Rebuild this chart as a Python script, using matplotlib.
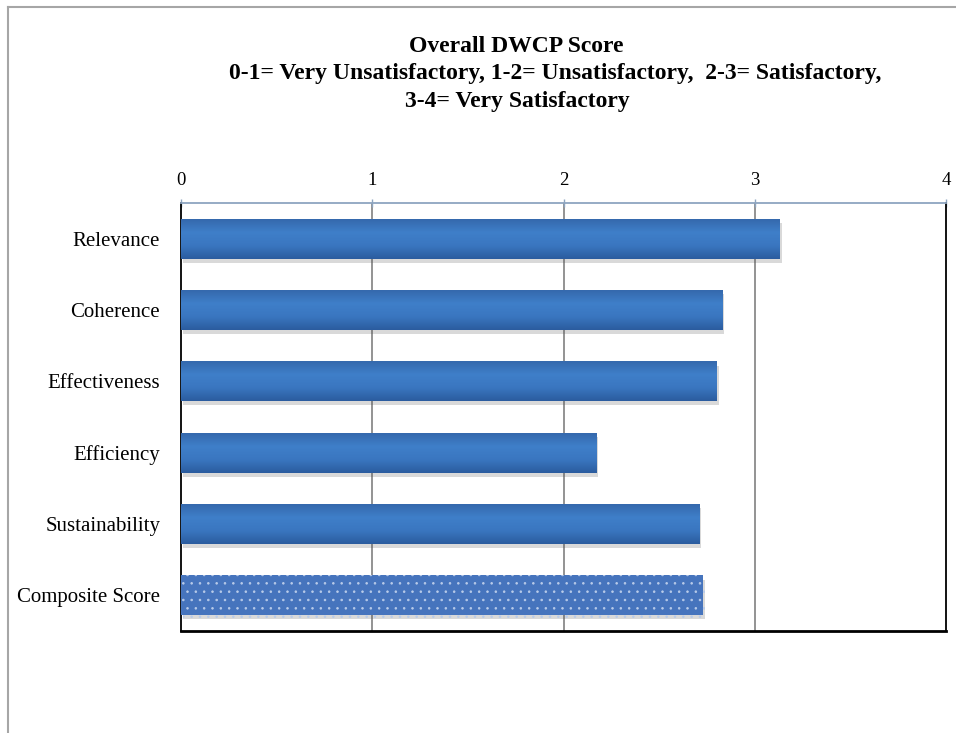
import numpy as np
import matplotlib
matplotlib.use('Agg')
import matplotlib.pyplot as plt
import matplotlib.patheffects as pe
from matplotlib.lines import Line2D
from matplotlib.colors import LinearSegmentedColormap

# --- data ---
categories = ['Relevance', 'Coherence', 'Effectiveness', 'Efficiency',
              'Sustainability', 'Composite Score']
scores = [3.13, 2.83, 2.80, 2.17, 2.71, 2.73]
x_ticks = [0, 1, 2, 3, 4]
title_lines = ['Overall DWCP Score',
               '0-1= Very Unsatisfactory, 1-2= Unsatisfactory,  2-3= Satisfactory,',
               '3-4= Very Satisfactory']

plt.rcParams['font.family'] = ['Liberation Serif', 'DejaVu Serif']
plt.rcParams['hatch.linewidth'] = 0.6

W, H = 956, 733
fig = plt.figure(figsize=(W / 100, H / 100), dpi=100)
ax = fig.add_axes([181 / W, 1 - 631 / H, (946 - 181) / W, (631 - 203) / H])

y = np.arange(len(categories))
bar_h = 0.56
shadow = [pe.SimplePatchShadow(offset=(1.5, -3), alpha=0.22, shadow_rgbFace='#555555'), pe.Normal()]

bars = ax.barh(y, scores, height=bar_h, color='#3a73bd', linewidth=0, zorder=3)
grad = LinearSegmentedColormap.from_list('g', ['#3569ad', '#3f7fc9', '#3a76c0', '#2b5c9f'])
for i, b in enumerate(bars):
    b.set_path_effects(shadow)
    if i == len(bars) - 1:
        # composite score: dotted fill
        b.set_facecolor('#4674bd')
        b.set_edgecolor('#b9cbe9')
        b.set_hatch('..')
        continue
    x0, y0 = b.get_x(), b.get_y()
    w, h = b.get_width(), b.get_height()
    ax.imshow(np.linspace(0, 1, 64).reshape(-1, 1), cmap=grad, aspect='auto',
              extent=(x0, x0 + w, y0 + h, y0), zorder=4, interpolation='bicubic')

ax.set_xlim(0, 4)
ax.set_ylim(len(categories) - 0.5, -0.5)

ax.set_yticks(y)
ax.set_yticklabels(categories, fontsize=15)
ax.set_xticks(x_ticks)
ax.set_xticklabels([str(t) for t in x_ticks], fontsize=13.5)
ax.xaxis.tick_top()
ax.tick_params(axis='x', direction='inout', length=6, width=1, color='#8ea5c0', pad=7)
ax.tick_params(axis='y', length=0, pad=15)

for t in x_ticks[1:-1]:
    ax.axvline(t, color='#808080', linewidth=1.2, zorder=1)

for side in ['left', 'bottom', 'right']:
    ax.spines[side].set_color('#000000')
    ax.spines[side].set_linewidth(1.3)
ax.spines['bottom'].set_linewidth(2.0)
ax.spines['top'].set_color('#8ea5c0')
ax.spines['top'].set_linewidth(1.3)

# title
for txt, cx, cy in zip(title_lines, [516, 555, 517], [46, 74, 101]):
    fig.text(cx / W, 1 - cy / H, txt, ha='center', va='center',
             fontsize=17, fontweight='bold')

# outer chart frame (top and left edges visible)
fig.add_artist(Line2D([8 / W, 8 / W], [0, 1 - 7 / H], transform=fig.transFigure,
                      color='#a6a6a6', linewidth=1.5))
fig.add_artist(Line2D([8 / W, 1], [1 - 7 / H, 1 - 7 / H], transform=fig.transFigure,
                      color='#a6a6a6', linewidth=1.5))

fig.savefig('out.png', dpi=100)
